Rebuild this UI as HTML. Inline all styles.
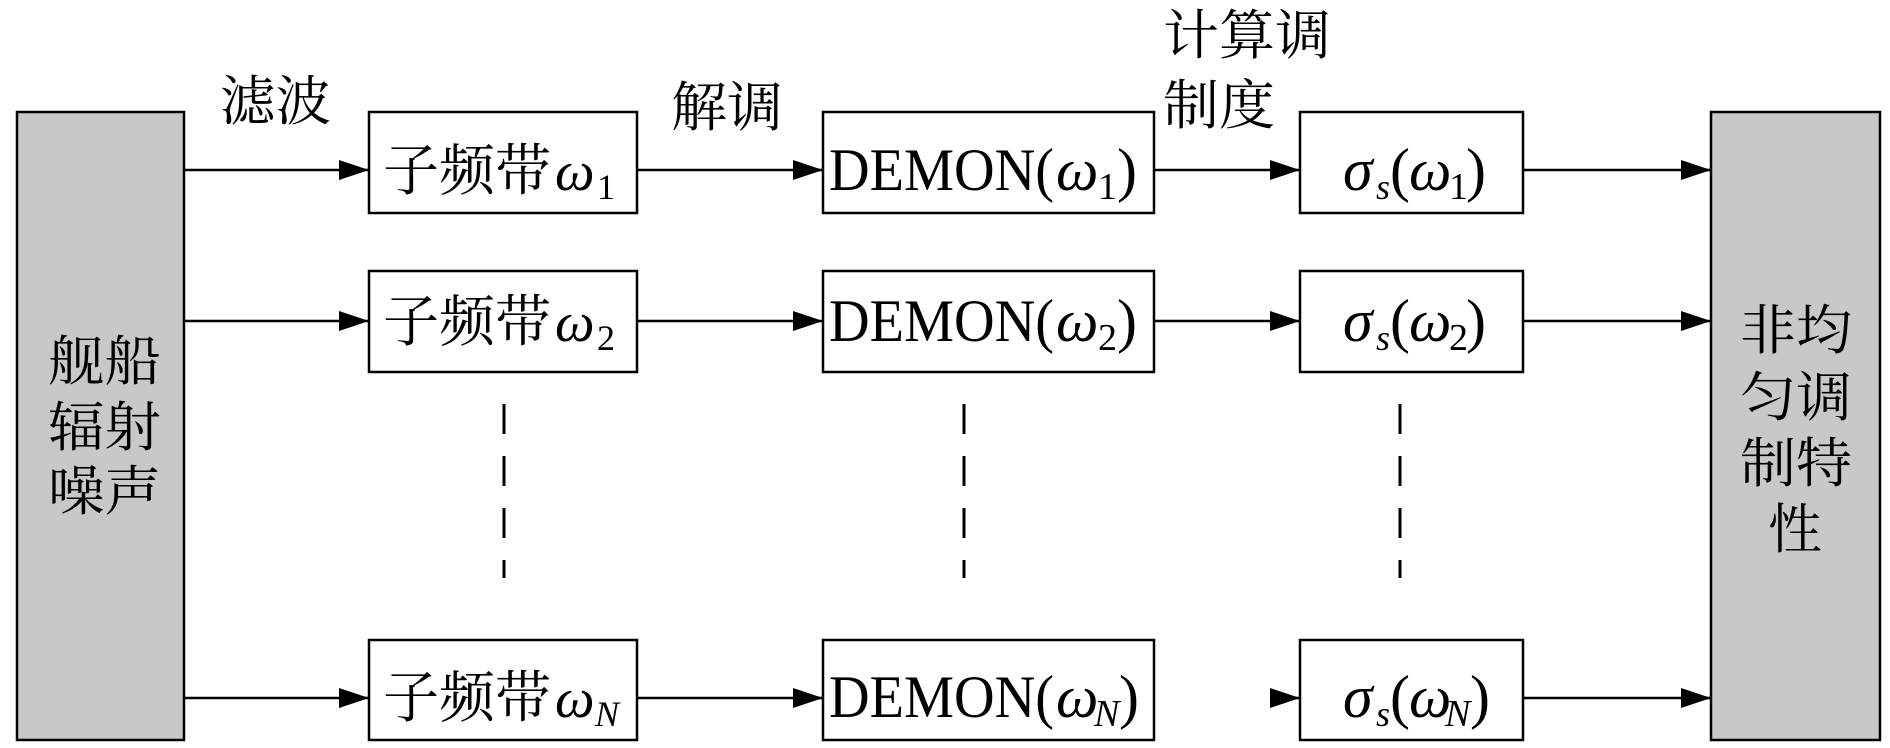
<!DOCTYPE html>
<html><head><meta charset="utf-8"><style>html,body{margin:0;padding:0;background:#fff}svg{display:block}
.c{font-family:"Liberation Serif","Noto Serif CJK SC",serif;fill:#000}
.i{font-style:italic}</style></head><body>
<svg width="1890" height="748" viewBox="0 0 1890 748" xmlns="http://www.w3.org/2000/svg">
<defs><marker id="a" markerWidth="30" markerHeight="20" refX="30" refY="10" orient="auto" markerUnits="userSpaceOnUse"><path d="M0,0 L30,10 L0,20 Z" fill="#000"/></marker></defs>
<g stroke="#000" stroke-width="2.5">
<rect x="17" y="112" width="167" height="628" fill="#c8c8c8"/>
<rect x="1711" y="112" width="169" height="628" fill="#c8c8c8"/>
<rect x="369" y="112" width="268" height="101" fill="#fff"/>
<rect x="369" y="271" width="268" height="101" fill="#fff"/>
<rect x="369" y="640" width="268" height="100" fill="#fff"/>
<rect x="823" y="112" width="331" height="101" fill="#fff"/>
<rect x="823" y="271" width="331" height="101" fill="#fff"/>
<rect x="823" y="640" width="331" height="100" fill="#fff"/>
<rect x="1300" y="112" width="223" height="101" fill="#fff"/>
<rect x="1300" y="271" width="223" height="101" fill="#fff"/>
<rect x="1300" y="640" width="223" height="100" fill="#fff"/>
</g>
<g stroke="#000" stroke-width="2.5" marker-end="url(#a)">
<line x1="184" y1="170" x2="369" y2="170"/><line x1="637" y1="170" x2="823" y2="170"/><line x1="1154" y1="170" x2="1300" y2="170"/><line x1="1523" y1="170" x2="1711" y2="170"/>
<line x1="184" y1="321" x2="369" y2="321"/><line x1="637" y1="321" x2="823" y2="321"/><line x1="1154" y1="321" x2="1300" y2="321"/><line x1="1523" y1="321" x2="1711" y2="321"/>
<line x1="184" y1="698" x2="369" y2="698"/><line x1="637" y1="698" x2="823" y2="698"/><line x1="1290" y1="698" x2="1300" y2="698"/><line x1="1523" y1="698" x2="1711" y2="698"/>
</g>
<g stroke="#000" stroke-width="3" stroke-dasharray="30 22">
<line x1="504" y1="404" x2="504" y2="578"/><line x1="964" y1="404" x2="964" y2="578"/><line x1="1400" y1="404" x2="1400" y2="578"/>
</g>
<g class="c" font-size="54">
<text x="220" y="120" textLength="111" lengthAdjust="spacingAndGlyphs">滤波</text>
<text x="671" y="126" textLength="112" lengthAdjust="spacingAndGlyphs">解调</text>
<text x="1163" y="54" textLength="168" lengthAdjust="spacingAndGlyphs">计算调</text>
<text x="1163" y="124" textLength="112" lengthAdjust="spacingAndGlyphs">制度</text>
<text x="48" y="380" textLength="113" lengthAdjust="spacingAndGlyphs">舰船</text>
<text x="48" y="446" textLength="113" lengthAdjust="spacingAndGlyphs">辐射</text>
<text x="48" y="510" textLength="113" lengthAdjust="spacingAndGlyphs">噪声</text>
<text x="1740" y="349" textLength="112" lengthAdjust="spacingAndGlyphs">非均</text>
<text x="1740" y="416" textLength="112" lengthAdjust="spacingAndGlyphs">匀调</text>
<text x="1740" y="482" textLength="112" lengthAdjust="spacingAndGlyphs">制特</text>
<text x="1768" y="548">性</text>
</g>
<g class="c" font-size="56">
<text x="383" y="190" textLength="168" lengthAdjust="spacingAndGlyphs">子频带</text><text class="i" x="555" y="190">ω</text><text x="597" y="199" font-size="36">1</text>
<text x="383" y="341" textLength="168" lengthAdjust="spacingAndGlyphs">子频带</text><text class="i" x="555" y="341">ω</text><text x="597" y="350" font-size="36">2</text>
<text x="383" y="717" textLength="168" lengthAdjust="spacingAndGlyphs">子频带</text><text class="i" x="555" y="717">ω</text><text class="i" x="595" y="726" font-size="36">N</text>
</g>
<g class="c" font-size="60">
<text x="829" y="190" textLength="225" lengthAdjust="spacingAndGlyphs">DEMON(</text><text class="i" x="1056" y="190">ω</text><text x="1098" y="199" font-size="38">1</text><text x="1117" y="190">)</text>
<text x="829" y="341" textLength="225" lengthAdjust="spacingAndGlyphs">DEMON(</text><text class="i" x="1056" y="341">ω</text><text x="1098" y="350" font-size="38">2</text><text x="1117" y="341">)</text>
<text x="829" y="717" textLength="225" lengthAdjust="spacingAndGlyphs">DEMON(</text><text class="i" x="1056" y="717">ω</text><text class="i" x="1094" y="726" font-size="38">N</text><text x="1119" y="717">)</text>
<text class="i" x="1343" y="190">σ</text><text class="i" x="1376" y="199" font-size="36">s</text><text x="1390" y="190">(</text><text class="i" x="1409" y="190">ω</text><text x="1449" y="199" font-size="38">1</text><text x="1466" y="190">)</text>
<text class="i" x="1343" y="341">σ</text><text class="i" x="1376" y="350" font-size="36">s</text><text x="1390" y="341">(</text><text class="i" x="1409" y="341">ω</text><text x="1449" y="350" font-size="38">2</text><text x="1466" y="341">)</text>
<text class="i" x="1343" y="717">σ</text><text class="i" x="1376" y="726" font-size="36">s</text><text x="1390" y="717">(</text><text class="i" x="1409" y="717">ω</text><text class="i" x="1445" y="726" font-size="38">N</text><text x="1470" y="717">)</text>
</g>
</svg>
</body></html>
